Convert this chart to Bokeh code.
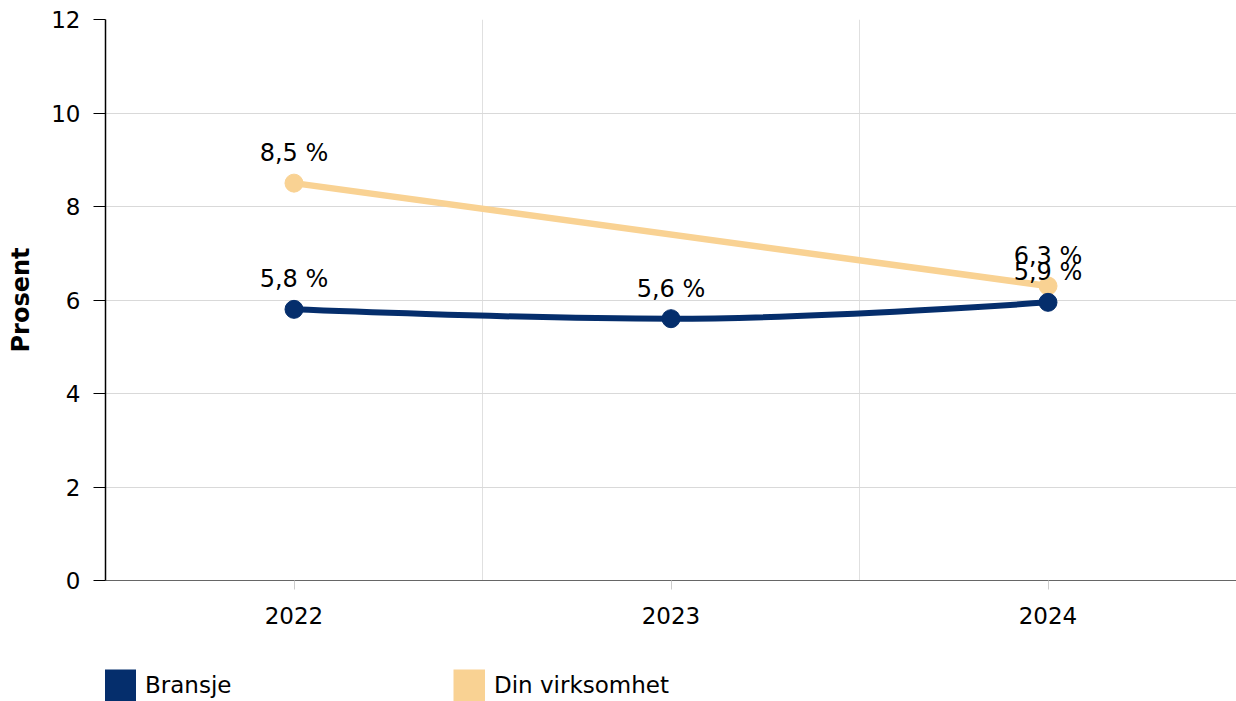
from bokeh.plotting import figure
from bokeh.layouts import column
from bokeh.models import (Range1d, FixedTicker, Legend, LegendItem, ColumnDataSource,
                          LabelSet)
from bokeh.core.properties import value
from bokeh.embed import file_html
from bokeh.resources import INLINE

# ---------------- data ----------------
years = ["2022", "2023", "2024"]
bransje = [5.8, 5.6, 5.95]
bransje_labels = ["5,8 %", "5,6 %", "5,9 %"]
din = [8.5, None, 6.3]
din_labels = ["8,5 %", None, "6,3 %"]
y_ticks = [0, 2, 4, 6, 8, 10, 12]
series_names = ["Bransje", "Din virksomhet"]

NAVY = "#052e6c"
PEACH = "#f9d293"
FONT = "DejaVu Sans"
FS = "23px"

xs = [i + 0.5 for i in range(len(years))]


def spline_segments(xv, yv, s=1.5, d=2.5):
    n = len(xv)
    left = [None] * n
    right = [None] * n
    for i in range(1, n - 1):
        px, py = xv[i], yv[i]
        lx, ly = xv[i - 1], yv[i - 1]
        nx, ny = xv[i + 1], yv[i + 1]
        lcx, lcy = (s * px + lx) / d, (s * py + ly) / d
        rcx, rcy = (s * px + nx) / d, (s * py + ny) / d
        corr = ((rcy - lcy) * (rcx - px)) / (rcx - lcx) + py - rcy
        lcy += corr
        rcy += corr
        if lcy > ly and lcy > py:
            lcy = max(ly, py); rcy = 2 * py - lcy
        elif lcy < ly and lcy < py:
            lcy = min(ly, py); rcy = 2 * py - lcy
        if rcy > ny and rcy > py:
            rcy = max(ny, py); lcy = 2 * py - rcy
        elif rcy < ny and rcy < py:
            rcy = min(ny, py); lcy = 2 * py - rcy
        left[i] = (lcx, lcy)
        right[i] = (rcx, rcy)
    seg = dict(x0=[], y0=[], x1=[], y1=[], cx0=[], cy0=[], cx1=[], cy1=[])
    for i in range(1, n):
        c0 = right[i - 1] or (xv[i - 1], yv[i - 1])
        c1 = left[i] or (xv[i], yv[i])
        seg["x0"].append(xv[i - 1]); seg["y0"].append(yv[i - 1])
        seg["x1"].append(xv[i]); seg["y1"].append(yv[i])
        seg["cx0"].append(c0[0]); seg["cy0"].append(c0[1])
        seg["cx1"].append(c1[0]); seg["cy1"].append(c1[1])
    return seg


p = figure(width=1236, height=650, x_range=Range1d(0, len(years)), y_range=Range1d(0, 12),
           output_backend="svg", toolbar_location=None,
           min_border_left=105, min_border_right=0, min_border_top=19, min_border_bottom=70)
p.outline_line_color = None
p.background_fill_color = "white"

# axes
p.xaxis.ticker = FixedTicker(ticks=xs)
p.xaxis.major_label_overrides = {x: y for x, y in zip(xs, years)}
p.xaxis.axis_line_color = "#666666"
p.xaxis.major_tick_line_color = "#cccccc"
p.xaxis.major_tick_out = 9
p.xaxis.major_tick_in = 0
p.xaxis.minor_tick_line_color = None
p.xaxis.major_label_standoff = 17

p.yaxis.ticker = FixedTicker(ticks=y_ticks)
p.yaxis.axis_line_color = "black"
p.yaxis.axis_line_width = 1.5
p.yaxis.major_tick_line_color = "black"
p.yaxis.major_tick_out = 12
p.yaxis.major_tick_in = 0
p.yaxis.minor_tick_line_color = None
p.yaxis.major_label_standoff = 13
p.yaxis.axis_label = "Prosent"
p.yaxis.axis_label_text_font_style = "bold"
p.yaxis.axis_label_text_font_size = "24px"
p.yaxis.axis_label_text_font = FONT
p.yaxis.axis_label_text_color = "black"
p.yaxis.axis_label_standoff = 13

for ax in (p.xaxis, p.yaxis):
    ax.major_label_text_font = FONT
    ax.major_label_text_font_size = FS
    ax.major_label_text_color = "black"

# grids
p.xgrid.ticker = FixedTicker(ticks=[i for i in range(1, len(years))])
p.xgrid.grid_line_color = "#e0e0e0"
p.ygrid.ticker = FixedTicker(ticks=y_ticks)
p.ygrid.grid_line_color = "#d9d9d9"

# Din virksomhet (missing 2023 connected)
dx = [x for x, v in zip(xs, din) if v is not None]
dy = [v for v in din if v is not None]
p.line(dx, dy, line_color=PEACH, line_width=6.5)
p.scatter(dx, dy, size=18, fill_color=PEACH, line_color=PEACH)

# Bransje spline
seg = spline_segments(xs, bransje)
p.bezier(source=ColumnDataSource(seg), x0="x0", y0="y0", x1="x1", y1="y1",
         cx0="cx0", cy0="cy0", cx1="cx1", cy1="cy1", line_color=NAVY, line_width=6)
p.scatter(xs, bransje, size=18, fill_color=NAVY, line_color=NAVY)

# data labels
lab_b = ColumnDataSource(dict(x=xs, y=bransje, t=bransje_labels))
dl = [l for l in din_labels if l is not None]
lab_d = ColumnDataSource(dict(x=dx, y=dy, t=dl))
for src in (lab_d, lab_b):
    p.add_layout(LabelSet(x="x", y="y", text="t", source=src, y_offset=22,
                          text_align="center", text_baseline="alphabetic",
                          text_font=value(FONT), text_font_size="24px", text_color="black"))

# ---------------- legend strip ----------------
# The series are re-plotted here outside the visible range (only so that the
# legend has renderers with data); the legend swatches are butt-capped thick lines.
leg = figure(width=1236, height=51, x_range=Range1d(0, 1), y_range=Range1d(-2, -1),
             output_backend="svg", toolbar_location=None, x_axis_type=None, y_axis_type=None,
             min_border_left=0, min_border_right=0, min_border_top=0, min_border_bottom=0)
leg.outline_line_color = None
leg.grid.visible = False

series_x = [xs, dx]
series_y = [bransje, dy]
for name, colr, sx, sy, xloc in zip(series_names, [NAVY, PEACH], series_x, series_y, [-1, 348]):
    r = leg.line(sx, sy, line_color=colr, line_width=32)
    lg = Legend(items=[LegendItem(label=name, renderers=[r])],
                location=(xloc, 0), glyph_width=32, glyph_height=32, label_standoff=9,
                padding=0, margin=0, spacing=0, border_line_color=None,
                background_fill_alpha=0, label_text_font=FONT, label_text_font_size=FS,
                label_text_color="black")
    leg.add_layout(lg, "center")

open("out.html", "w").write(file_html(column(p, leg, spacing=0), INLINE))
